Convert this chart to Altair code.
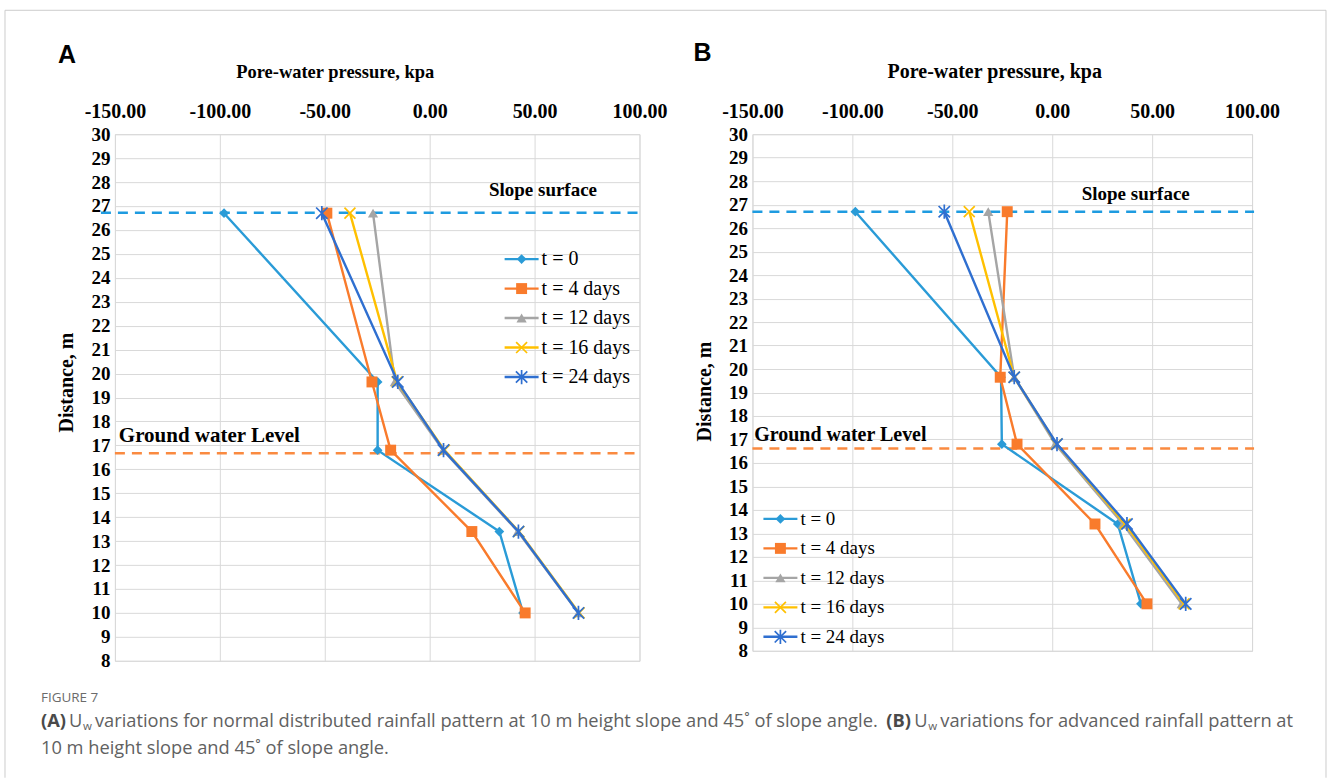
import altair as alt
import pandas as pd

# ---------------- data ----------------
SERIES = ["t = 0", "t = 4 days", "t = 12 days", "t = 16 days", "t = 24 days"]
DEPTH = [26.7, 19.65, 16.8, 13.4, 10.0]

A_T0 = [-98.0, -24.8, -24.8, 33.2, 44.5]
A_T4 = [-49.0, -27.5, -18.6, 20.1, 45.5]
A_T12 = [-27.0, -16.6, 6.4, 42.0, 70.9]
A_T16 = [-38.0, -15.5, 7.0, 42.5, 71.2]
A_T24 = [-51.4, -15.2, 6.6, 42.3, 70.9]

B_T0 = [-98.5, -25.6, -25.2, 32.8, 44.4]
B_T4 = [-22.5, -26.0, -17.6, 21.4, 47.4]
B_T12 = [-32.0, -19.0, 1.5, 35.4, 64.8]
B_T16 = [-41.5, -19.0, 2.2, 36.5, 66.0]
B_T24 = [-54.0, -19.0, 2.4, 37.4, 66.8]

A_SLOPE = 26.72
A_GWL = 16.67
B_SLOPE = 26.7
B_GWL = 16.62

X_TICKS = [-150, -100, -50, 0, 50, 100]
Y_TICKS = list(range(8, 31))

# ---------------- styles ----------------
COLORS = ["#2A9BD7", "#F97B2C", "#A5A5A5", "#FFC000", "#2F6FD0"]
X_PATH = "M-1,-1L1,1M-1,1L1,-1"
STAR_PATH = "M-1,-1L1,1M-1,1L1,-1M0,-1.25L0,1.25"
MARKERS = [
    dict(shape="diamond", filled=True, size=95),
    dict(shape="square", filled=True, size=120),
    dict(shape="triangle-up", filled=True, size=105),
    dict(shape=X_PATH, filled=False, size=120, strokeWidth=1.7),
    dict(shape=STAR_PATH, filled=False, size=130, strokeWidth=1.7),
]
SERIF = "Liberation Serif"
SANS = "Open Sans"
ONE = pd.DataFrame({"k": [0]})
XLABEL = "(datum.value < 0 ? '-' : '') + format(abs(datum.value), '.2f')"


def make_panel(vals, slope_y, gwl_y, slope_xy, gwl_xy, leg, width, height,
               xtitle_x, xtitle_size, ytitle_y, extra_layers):
    xs = alt.Scale(domain=[-150, 100], nice=False, zero=False)
    ys = alt.Scale(domain=[8, 30], nice=False, zero=False)
    xaxis = alt.Axis(orient="top", values=X_TICKS, labelExpr=XLABEL,
                     title="Pore-water pressure, kpa", labelFontSize=20,
                     labelBaseline="middle", labelPadding=23, labelFlush=False,
                     labelOverlap=False, titleX=xtitle_x, titleY=-63,
                     titleFontSize=xtitle_size,
                     titleAlign="center", titleBaseline="middle", grid=True)
    yaxis = alt.Axis(orient="left", values=Y_TICKS, title="Distance, m",
                     labelFontSize=19, labelPadding=5, labelFlush=False,
                     labelOverlap=False, titleX=-48, titleY=ytitle_y,
                     titleAngle=270, titleAlign="center", titleBaseline="middle",
                     grid=True)

    def X(field="x"):
        return alt.X(f"{field}:Q", scale=xs, axis=xaxis)

    def Y(field="y"):
        return alt.Y(f"{field}:Q", scale=ys, axis=yaxis)

    layers = []
    # dashed reference lines
    layers.append(
        alt.Chart(pd.DataFrame({"y": [slope_y]})).mark_rule(
            color="#1E9BE0", strokeDash=[10, 7], strokeWidth=2.5
        ).encode(y=Y(), x=alt.value(slope_xy[2]), x2=alt.value(width + 2))
    )
    layers.append(
        alt.Chart(pd.DataFrame({"y": [gwl_y]})).mark_rule(
            color="#FA8A40", strokeDash=[10, 7], strokeWidth=2.5
        ).encode(y=Y(), x=alt.value(0), x2=alt.value(width + 2))
    )
    # series
    for i, (s, xv) in enumerate(zip(SERIES, vals)):
        df = pd.DataFrame({"x": xv, "y": DEPTH, "k": list(range(len(xv)))})
        layers.append(
            alt.Chart(df).mark_line(color=COLORS[i], strokeWidth=2.4).encode(
                x=X(), y=Y(), order="k:Q")
        )
        layers.append(
            alt.Chart(df).mark_point(color=COLORS[i], opacity=1, **MARKERS[i]).encode(
                x=X(), y=Y())
        )
    # annotations
    layers.append(
        alt.Chart(pd.DataFrame({"x": [slope_xy[0]], "y": [slope_xy[1]]})).mark_text(
            text="Slope surface", font=SERIF, fontWeight="bold", fontSize=slope_xy[3],
            color="black", baseline="middle").encode(x=X(), y=Y())
    )
    layers.append(
        alt.Chart(pd.DataFrame({"x": [gwl_xy[0]], "y": [gwl_xy[1]]})).mark_text(
            text="Ground water Level", font=SERIF, fontWeight="bold", fontSize=gwl_xy[2],
            color="black", baseline="middle").encode(x=X(), y=Y())
    )
    # custom legend (Excel style: line with marker in the middle)
    lx, ly, dy, fs = leg
    for i, s in enumerate(SERIES):
        yy = ly + i * dy
        layers.append(
            alt.Chart(ONE).mark_rule(color=COLORS[i], strokeWidth=2.4).encode(
                x=alt.value(lx), x2=alt.value(lx + 34), y=alt.value(yy))
        )
        layers.append(
            alt.Chart(ONE).mark_point(color=COLORS[i], opacity=1, **MARKERS[i]).encode(
                x=alt.value(lx + 17), y=alt.value(yy))
        )
        layers.append(
            alt.Chart(ONE).mark_text(text=s, font=SERIF, fontSize=fs, color="black",
                                     align="left", baseline="middle").encode(
                x=alt.value(lx + 37), y=alt.value(yy))
        )
    layers.extend(extra_layers)
    return alt.layer(*layers).properties(width=width, height=height)


# page geometry (panel A plot origin on the canvas)
OX, OY = 114, 133
BX = 752


def ax(x):
    return x - OX


def ay(y):
    return y - OY


def txt(s, x, y, size=18.3, weight="normal", color="#616161", font=SANS, base="middle"):
    return alt.Chart(ONE).mark_text(text=s, font=font, fontSize=size, fontWeight=weight,
                                    color=color, align="left", baseline=base).encode(
        x=alt.value(ax(x)), y=alt.value(ay(y)))


def rule(x1, y1, x2, y2):
    return alt.Chart(ONE).mark_rule(color="#CCCCCC", strokeWidth=1).encode(
        x=alt.value(ax(x1)), x2=alt.value(ax(x2)), y=alt.value(ay(y1)), y2=alt.value(ay(y2)))


extra_a = [
    rule(4, 9, 4, 777), rule(4, 9, 1326, 9), rule(1326, 9, 1326, 777),
    txt("A", 57, 54, size=25, weight="bold", color="black", font="Liberation Sans"),
    txt("FIGURE 7", 40, 697, size=13.5, color="#6B6B6B"),
    txt("(A)", 40, 721, weight="bold", color="#4A4A4A"),
    txt("U", 68, 721),
    txt("w", 82, 726, size=11.5),
    txt("variations for normal distributed rainfall pattern at 10 m height slope and 45˚ of slope angle.", 94, 721),
    txt("(B)", 886, 721, weight="bold", color="#4A4A4A"),
    txt("U", 914, 721),
    txt("w", 928, 726, size=11.5),
    txt("variations for advanced rainfall pattern at", 940, 721),
    txt("10 m height slope and 45˚ of slope angle.", 40, 748),
]

extra_b = [
    alt.Chart(ONE).mark_text(text="B", font="Liberation Sans", fontSize=25, fontWeight="bold",
                             color="black", align="left", baseline="middle").encode(
        x=alt.value(693 - BX), y=alt.value(52 - OY)),
]

panel_a = make_panel([A_T0, A_T4, A_T12, A_T16, A_T24], A_SLOPE, A_GWL,
                     (54.0, 27.66, -14, 19), (-105.0, 17.4, 21), (504 - OX, 258 - OY, 29.5, 20),
                     525, 527, 334 - OX, 18.5, 381 - OY, extra_a)
panel_b = make_panel([B_T0, B_T4, B_T12, B_T16, B_T24], B_SLOPE, B_GWL,
                     (41.8, 27.45, 0, 19), (-106.0, 17.2, 20), (763 - BX, 518 - OY, 29.5, 19),
                     500, 517, 994 - BX, 20, 390 - OY, extra_b)

chart = alt.hconcat(panel_a, panel_b, spacing=BX - OX - 525, bounds="flush").properties(
    padding={"left": 4, "top": 9, "right": 1, "bottom": 0}
).configure_view(stroke="#D9D9D9", strokeWidth=1).configure_axis(
    labelFont=SERIF, labelFontWeight="bold", labelColor="black",
    titleFont=SERIF, titleFontWeight="bold", titleColor="black", titleFontSize=20,
    domain=False, ticks=False, tickSize=0, gridColor="#D9D9D9", gridWidth=1,
)

chart.save("out.html", embed_options={"renderer": "svg", "actions": False})
